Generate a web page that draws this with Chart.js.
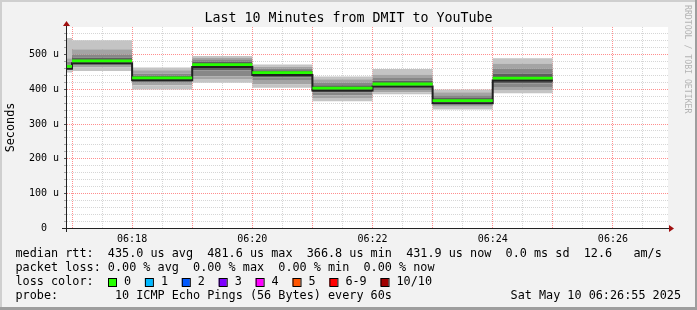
<!DOCTYPE html>
<html>
<head>
<meta charset="utf-8">
<script src="https://cdn.jsdelivr.net/npm/chart.js@4.4.1/dist/chart.umd.min.js"></script>
<style>
  html, body { margin: 0; padding: 0; background: #f2f2f2; }
  canvas { display: block; }
</style>
</head>
<body>
<canvas id="smokeChart" width="697" height="310"></canvas>
<script>
// Time window and step boundaries (one rrd step per minute)
const viewStart = '06:16:55';
const viewEnd = '06:26:55';
const stepTimes = ['06:16:55', '06:17:00', '06:18:00', '06:19:00', '06:20:00',
  '06:21:00', '06:22:00', '06:23:00', '06:24:00', '06:25:00'];

// Median rtt per step (us)
const medianRtt = [466, 481.6, 432.5, 471, 448, 403, 415, 366.8, 431.9];

// The 10 pings of each step, sorted (us)
const pingsByStep = [
  [449, 455, 460, 463, 465, 468, 472, 480, 490, 548],
  [453, 463, 470, 477, 481, 482, 492, 501, 516, 542],
  [400, 412, 419, 427, 432, 433, 439, 445, 455, 463],
  [419, 430, 437, 455, 469, 472, 480, 487, 492, 496],
  [405, 414, 425, 435, 446, 450, 455, 460, 465, 472],
  [366, 375, 383, 392, 401, 404, 412, 420, 429, 437],
  [386, 392, 398, 405, 412, 416, 425, 433, 443, 459],
  [342, 350, 356, 362, 366, 368, 375, 383, 392, 400],
  [389, 398, 405, 418, 430, 433, 446, 460, 475, 490]
];

const yTickLabels = ['0  ', '100 u', '200 u', '300 u', '400 u', '500 u'];
const xTickLabels = ['06:18', '06:20', '06:22', '06:24', '06:26'];

const rttStats = ['435.0 us avg', '481.6 us max', '366.8 us min', '431.9 us now', '0.0 ms sd', '12.6   am/s'];
const lossStats = ['0.00 % avg', '0.00 % max', '0.00 % min', '0.00 % now'];
const lossLabels = ['0', '1', '2', '3', '4', '5', '6-9', '10/10'];
const lossColors = ['#26ff00', '#00b8ff', '#0059ff', '#7e00ff', '#ff00ff', '#ff5500', '#ff0000', '#a10000'];

const titleText = 'Last 10 Minutes from DMIT to YouTube';
const probeText = 'probe:        10 ICMP Echo Pings (56 Bytes) every 60s';
const dateText = 'Sat May 10 06:26:55 2025';

const MONO = '"DejaVu Sans Mono", "Liberation Mono", monospace';
const smokeShades = ['#c4c4c4', '#a4a4a4', '#878787', '#5e5e5e', '#3e3e3e'];

function toSec(t) {
  const p = t.split(':').map(Number);
  return p[0] * 3600 + p[1] * 60 + (p[2] || 0);
}

// stepped series: each value holds from its boundary to the next one
function stepPoints(values) {
  return stepTimes.map((t, i) => ({ x: toSec(t), y: values[Math.min(i, values.length - 1)] }));
}

const datasets = [];

// smoke: one line per ping rank, each filled down to the previous rank
for (let r = 0; r < 10; r++) {
  datasets.push({
    data: stepPoints(pingsByStep.map(p => p[r])),
    stepped: true,
    borderWidth: 0,
    borderColor: 'rgba(0,0,0,0)',
    pointRadius: 0,
    fill: r === 0 ? false : r - 1,
    backgroundColor: smokeShades[Math.min(r - 1, 9 - r)] || 'rgba(0,0,0,0)',
    order: 2
  });
}

// green median band (0% loss) and the black median line below it
datasets.push({
  data: stepPoints(medianRtt.map(v => v - 3.5)),
  stepped: true, borderWidth: 0, borderColor: 'rgba(0,0,0,0)', pointRadius: 0,
  fill: false, order: 0
});
datasets.push({
  data: stepPoints(medianRtt.map(v => v + 4.5)),
  stepped: true, borderWidth: 0, borderColor: 'rgba(0,0,0,0)', pointRadius: 0,
  fill: 10, backgroundColor: lossColors[0], order: 0
});
datasets.push({
  data: stepPoints(medianRtt.map(v => v - 6.5)),
  stepped: true, borderWidth: 2, borderColor: '#202020', pointRadius: 0,
  fill: false, order: 1
});

// background, frame, axes and all the rrdtool style text
const rrdFrame = {
  id: 'rrdFrame',
  beforeDraw(chart) {
    const { ctx, chartArea: a } = chart;
    ctx.save();
    ctx.fillStyle = '#f2f2f2';
    ctx.fillRect(0, 0, 697, 310);
    ctx.fillStyle = '#cfcfcf';
    ctx.fillRect(0, 0, 697, 2);
    ctx.fillRect(0, 0, 2, 310);
    ctx.fillStyle = '#9e9e9e';
    ctx.fillRect(0, 307, 697, 3);
    ctx.fillRect(695, 0, 2, 310);
    ctx.fillStyle = '#ffffff';
    ctx.fillRect(a.left, a.top, a.right - a.left, a.bottom - a.top);
    ctx.restore();
  },
  afterDraw(chart) {
    const { ctx, chartArea: a } = chart;
    ctx.save();

    // axes
    ctx.strokeStyle = '#222';
    ctx.lineWidth = 1;
    ctx.beginPath();
    ctx.moveTo(62, a.bottom + 0.5);
    ctx.lineTo(a.right + 2, a.bottom + 0.5);
    ctx.moveTo(a.left - 0.5, a.bottom + 4);
    ctx.lineTo(a.left - 0.5, a.top - 3);
    ctx.stroke();
    ctx.fillStyle = '#a01010';
    ctx.beginPath();
    ctx.moveTo(a.right + 6, a.bottom + 0.5);
    ctx.lineTo(a.right + 1, a.bottom - 3);
    ctx.lineTo(a.right + 1, a.bottom + 4);
    ctx.closePath();
    ctx.fill();
    ctx.beginPath();
    ctx.moveTo(a.left - 0.5, a.top - 6);
    ctx.lineTo(a.left - 4, a.top - 1);
    ctx.lineTo(a.left + 3, a.top - 1);
    ctx.closePath();
    ctx.fill();

    // title
    ctx.fillStyle = '#000';
    ctx.font = '13.3px ' + MONO;
    ctx.textAlign = 'center';
    ctx.textBaseline = 'middle';
    ctx.fillText(titleText, 348.5, 19);

    // y axis title
    ctx.font = '11.8px ' + MONO;
    ctx.save();
    ctx.translate(11, (a.top + a.bottom) / 2);
    ctx.rotate(-Math.PI / 2);
    ctx.fillText('Seconds', 0, 0);
    ctx.restore();

    // side credit
    ctx.save();
    ctx.fillStyle = '#b4b4b4';
    ctx.font = '8.2px ' + MONO;
    ctx.translate(687.5, 5);
    ctx.rotate(Math.PI / 2);
    ctx.textAlign = 'left';
    ctx.fillText('RRDTOOL / TOBI OETIKER', 0, 0);
    ctx.restore();

    // legend lines
    ctx.textAlign = 'left';
    ctx.fillStyle = '#000';
    ctx.font = '11.8px ' + MONO;
    const x0 = 15.5;
    ctx.fillText('median rtt:  ' + rttStats.join('  '), x0, 254.3);
    ctx.fillText('packet loss: ' + lossStats.join('  '), x0, 268.3);
    ctx.fillText('loss color:', x0, 282.3);
    let bx = 108;
    lossLabels.forEach((lab, i) => {
      ctx.fillStyle = lossColors[i];
      ctx.fillRect(bx, 278, 8, 8);
      ctx.strokeStyle = '#000';
      ctx.strokeRect(bx + 0.5, 278.5, 8, 8);
      ctx.fillStyle = '#000';
      ctx.fillText(lab, bx + 16, 282.3);
      bx += 16 + ctx.measureText(lab).width + 13.8;
    });
    ctx.fillText(probeText, x0, 296);
    ctx.textAlign = 'right';
    ctx.fillText(dateText, 681, 296);
    ctx.restore();
  }
};

const gridMinor = 'rgba(140,140,140,0.36)';
const gridMajor = 'rgba(255,30,30,0.5)';

new Chart(document.getElementById('smokeChart').getContext('2d'), {
  type: 'line',
  data: { datasets },
  options: {
    responsive: false,
    animation: false,
    events: [],
    layout: { padding: { top: 27, right: 29, left: 0, bottom: 0 } },
    plugins: {
      legend: { display: false },
      tooltip: { enabled: false },
      filler: { drawTime: 'beforeDatasetDraw' }
    },
    scales: {
      x: {
        type: 'linear',
        min: toSec(viewStart),
        max: toSec(viewEnd),
        z: 1,
        afterFit: s => { s.height = 82; },
        afterBuildTicks: s => {
          const ticks = [];
          for (let v = Math.ceil(s.min / 30) * 30; v < s.max; v += 30) ticks.push({ value: v });
          s.ticks = ticks;
        },
        border: { display: false, dash: [1, 1] },
        grid: {
          drawTicks: false,
          lineWidth: 1,
          color: c => (c.tick && c.tick.value % 60 === 0 ? gridMajor : gridMinor)
        },
        ticks: {
          autoSkip: false,
          maxRotation: 0,
          padding: 5,
          color: '#000',
          font: { family: MONO, size: 10 },
          callback: v => (v % 120 === 0 ? xTickLabels[(v - toSec('06:18')) / 120] || '' : '')
        }
      },
      y: {
        min: 0,
        max: 580,
        z: 1,
        afterFit: s => { s.width = 67; },
        afterBuildTicks: s => {
          const ticks = [];
          for (let v = 0; v < s.max; v += 20) ticks.push({ value: v });
          s.ticks = ticks;
        },
        border: { display: false, dash: [1, 1] },
        grid: {
          lineWidth: 1,
          tickLength: 3,
          tickColor: c => (c.tick && c.tick.value % 100 === 0 ? '#555' : '#aaa'),
          color: c => (c.tick && c.tick.value % 100 === 0 ? gridMajor : gridMinor)
        },
        ticks: {
          autoSkip: false,
          padding: 5,
          color: '#000',
          font: { family: MONO, size: 10 },
          callback: v => (v % 100 === 0 ? yTickLabels[v / 100] || '' : '')
        }
      }
    }
  },
  plugins: [rrdFrame]
});
</script>
</body>
</html>
